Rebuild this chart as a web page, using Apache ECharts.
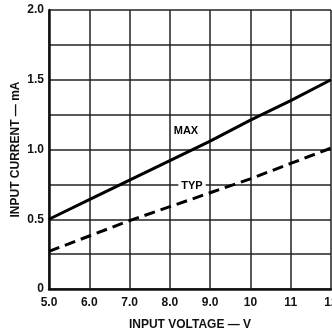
<!DOCTYPE html>
<html><head><meta charset="utf-8">
<script src="https://cdn.jsdelivr.net/npm/echarts@6/dist/echarts.min.js"></script>
<style>html,body{margin:0;padding:0;background:#fff}#c{width:332px;height:333px}</style>
</head><body><div id="c"></div>
<script>
var voltage = [5.0, 6.0, 7.0, 8.0, 9.0, 10, 11, 12];
var maxCurrent = [0.50, 0.64, 0.78, 0.92, 1.06, 1.21, 1.35, 1.50];
var typCurrent = [0.27, 0.38, 0.49, 0.59, 0.69, 0.79, 0.90, 1.01];
var xTickLabels = {5: '5.0', 6: '6.0', 7: '7.0', 8: '8.0', 9: '9.0', 10: '10', 11: '11', 12: '12'};
var yTickLabels = {0: '0', 0.5: '0.5', 1: '1.0', 1.5: '1.5', 2: '2.0'};

var font = 'Liberation Sans, Arial, sans-serif';
var chart = echarts.init(document.getElementById('c'));
chart.setOption({
  animation: false,
  backgroundColor: '#fff',
  grid: {left: 49, top: 10, right: 1, bottom: 44, containLabel: false, outerBoundsMode: 'none'},
  xAxis: {
    type: 'value', min: 5, max: 12, interval: 1,
    name: 'INPUT VOLTAGE — V', nameLocation: 'middle', nameGap: 30,
    nameTextStyle: {fontFamily: font, fontWeight: 'bold', fontSize: 12, color: '#111'},
    axisLine: {show: true, lineStyle: {color: '#111', width: 2.5}},
    axisTick: {show: false},
    splitLine: {show: true, lineStyle: {color: '#222', width: 1.5}},
    axisLabel: {fontFamily: font, fontWeight: 'bold', fontSize: 12, color: '#111', margin: 8,
      formatter: function (v) { return xTickLabels[v] || ''; }}
  },
  yAxis: {
    type: 'value', min: 0, max: 2, interval: 0.25,
    name: 'INPUT CURRENT — mA', nameLocation: 'middle', nameGap: 27, nameMoveOverlap: false,
    nameTextStyle: {fontFamily: font, fontWeight: 'bold', fontSize: 12, color: '#111'},
    axisLine: {show: true, lineStyle: {color: '#111', width: 2.5}},
    axisTick: {show: false},
    splitLine: {show: true, lineStyle: {color: '#222', width: 1.5}},
    axisLabel: {fontFamily: font, fontWeight: 'bold', fontSize: 12, color: '#111', margin: 5,
      formatter: function (v) { var k = Math.round(v * 100) / 100; return yTickLabels[k] !== undefined ? yTickLabels[k] : ''; }}
  },
  series: [
    {
      type: 'line', name: 'MAX', symbol: 'none',
      data: voltage.map(function (x, i) { return [x, maxCurrent[i]]; }),
      lineStyle: {color: '#000', width: 3},
      markPoint: {
        symbol: 'rect', symbolSize: 0,
        data: [{coord: [8.4, 1.13], label: {show: true, formatter: 'MAX', fontFamily: font, fontWeight: 'bold', fontSize: 11, color: '#000'}}]
      }
    },
    {
      type: 'line', name: 'TYP', symbol: 'none',
      data: voltage.map(function (x, i) { return [x, typCurrent[i]]; }),
      lineStyle: {color: '#000', width: 3, type: [11, 6]},
      markPoint: {
        symbol: 'rect', symbolSize: 0,
        data: [{coord: [8.55, 0.74], label: {show: true, formatter: 'TYP', fontFamily: font, fontWeight: 'bold', fontSize: 11, color: '#000', backgroundColor: '#fff', padding: [1, 3]}}]
      }
    }
  ]
});
</script>
</body></html>
